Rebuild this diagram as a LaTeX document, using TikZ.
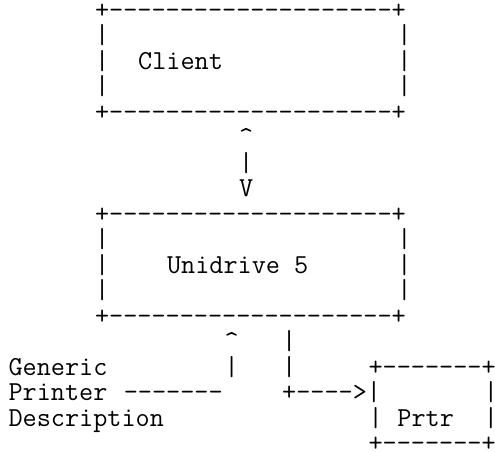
\documentclass[tikz,border=0pt]{standalone}
\usepackage{fontspec}
\setmonofont{Latin Modern Mono}
\tikzset{tt/.style={inner sep=0pt, outer sep=0pt, anchor=base west, text=black,
  font=\fontsize{27.43pt}{25.5pt}\selectfont\ttfamily}}
\newcommand\asc[4]{\node[tt] (#1) at ({8.6pt+#2*14.4pt},{-18.5pt-#3*25.49pt}) {#4};}
\begin{document}
\begin{tikzpicture}
\useasboundingbox[fill=white] (0,0) rectangle (495pt,-451pt);
% Client box
\asc{clientTop}{6}{0}{+--------------------+}
\asc{clientL1}{6}{1}{|}\asc{clientR1}{27}{1}{|}
\asc{clientL2}{6}{2}{|}\asc{clientR2}{27}{2}{|}
\asc{clientLabel}{9}{2}{Client}
\asc{clientL3}{6}{3}{|}\asc{clientR3}{27}{3}{|}
\asc{clientBot}{6}{4}{+--------------------+}
% two-way arrow
\asc{upHead}{16}{5}{\textasciicircum}
\asc{shaft}{16}{6}{|}
\asc{downHead}{16}{7}{V}
% Unidrive box
\asc{uniTop}{6}{8}{+--------------------+}
\asc{uniL1}{6}{9}{|}\asc{uniR1}{27}{9}{|}
\asc{uniL2}{6}{10}{|}\asc{uniR2}{27}{10}{|}
\asc{uniLabel}{11}{10}{Unidrive 5}
\asc{uniL3}{6}{11}{|}\asc{uniR3}{27}{11}{|}
\asc{uniBot}{6}{12}{+--------------------+}
% lower connectors
\asc{gpdHead}{15}{13}{\textasciicircum}
\asc{outA}{19}{13}{|}
\asc{gpdShaft}{15}{14}{|}
\asc{outB}{19}{14}{|}
\asc{generic}{0}{14}{Generic}
\asc{printer}{0}{15}{Printer}
\asc{gpdLine}{8}{15}{-------}
\asc{description}{0}{16}{Description}
\asc{outArrow}{19}{15}{+---->|}
% Prtr box
\asc{prtrTop}{25}{14}{+-------+}
\asc{prtrR1}{33}{15}{|}
\asc{prtrL2}{25}{16}{|}\asc{prtrR2}{33}{16}{|}
\asc{prtrLabel}{27}{16}{Prtr}
\asc{prtrBot}{25}{17}{+-------+}
\end{tikzpicture}
\end{document}
